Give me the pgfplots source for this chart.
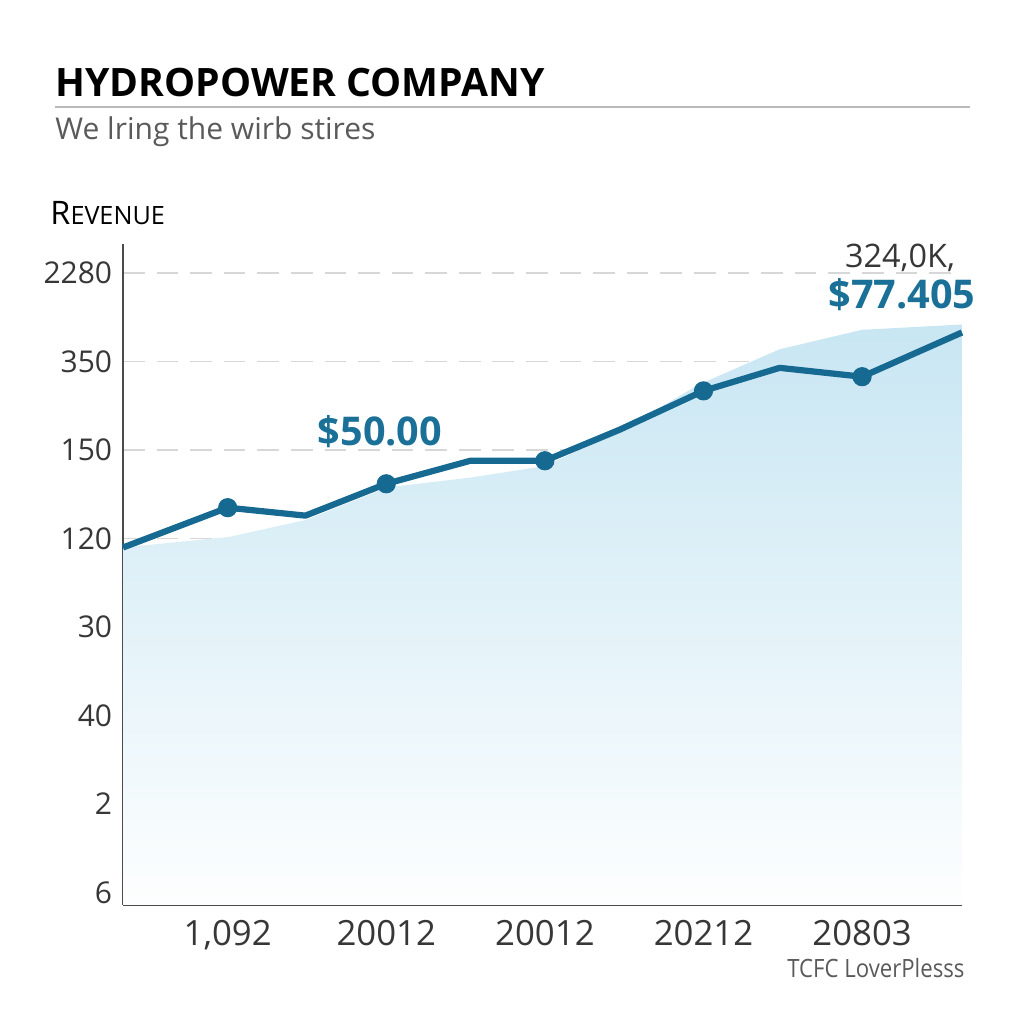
\documentclass[border=0pt]{standalone}
\usepackage{fontspec}
\setmainfont{Open Sans}
\usepackage{graphicx}
\usepackage{pgfplots}
\pgfplotsset{compat=1.18}

\definecolor{linecol}{RGB}{22,106,146}
\definecolor{labcol}{RGB}{26,112,150}
\definecolor{fillblue}{RGB}{200,230,243}
\definecolor{axisgray}{RGB}{75,75,75}
\definecolor{gridgray}{RGB}{215,215,215}
\definecolor{textgray}{RGB}{55,55,55}
\definecolor{subgray}{RGB}{90,90,90}

% pixel position of the 1024x1024 reference, y downwards
\newcommand{\px}[2]{({#1*0.0146484},{(1024-#2)*0.0146484})}

\begin{document}
\begin{tikzpicture}
\path[use as bounding box] (0,0) rectangle (15,15);

\begin{axis}[
    at={(1.8018cm,1.7432cm)}, anchor=south west,
    scale only axis,
    width=12.29cm, height=9.683cm,
    xmin=-0.66, xmax=4.63,
    ymin=-0.14, ymax=7.33,
    axis x line=bottom, axis y line=left,
    axis line style={-, draw=axisgray, line width=1pt},
    major tick length=0pt,
    xtick={0,...,4},
    xticklabels={{1,092}, 20012, 20012, 20212, 20803},
    ytick={0,...,7},
    yticklabels={6,2,40,30,120,150,350,2280},
    ymajorgrids,
    grid style={gridgray, dashed, dash pattern=on 9pt off 5pt, line width=0.6pt},
    xticklabel style={font=\fontsize{14.5}{16}\selectfont, text=textgray, yshift=-3pt},
    yticklabel style={font=\fontsize{12.5}{14}\selectfont, text=textgray, xshift=-1pt},
    clip=false,
]
% shaded area
\addplot[draw=none, top color=fillblue, bottom color=white!97!fillblue]
  coordinates {(-0.66,-0.14) (-0.66,3.90) (0.01,4.02) (0.49,4.21) (1.01,4.58)
               (1.53,4.69) (2.0,4.82) (2.47,5.21) (2.97,5.74) (3.48,6.14)
               (4.0,6.36) (4.63,6.42) (4.63,-0.14)} -- cycle;
% revenue line
\addplot[linecol, line width=2.6pt, line join=round]
  coordinates {(-0.66,3.90) (0,4.35) (0.49,4.26) (1,4.62) (1.53,4.88)
               (2,4.88) (2.47,5.23) (3,5.67) (3.48,5.93) (4,5.83) (4.63,6.33)};
\addplot[only marks, mark=*, mark size=3.8pt, linecol]
  coordinates {(0,4.35) (1,4.62) (2,4.88) (3,5.67) (4,5.83)};
\end{axis}

\node[anchor=base west, inner sep=0pt, font=\fontsize{16.3}{18}\selectfont\bfseries] at \px{55}{97} {HYDROPOWER COMPANY};
\draw[gray!55, line width=1.2pt] \px{55}{107} -- \px{970}{107};
\node[anchor=base west, inner sep=0pt, text=subgray, font=\fontsize{12.5}{14}\selectfont] at \px{55}{140} {We lring the wirb stires};
\node[anchor=base west, inner sep=0pt, text=black] at \px{50}{225}
  {\fontsize{13.5}{15}\selectfont R\fontsize{10.5}{12}\selectfont EVENUE};
\node[anchor=base, inner sep=0pt, text=textgray, font=\fontsize{13.5}{15}\selectfont] at \px{900}{268} {324,0K,};
\node[anchor=base, inner sep=0pt, text=labcol, font=\fontsize{16.5}{18}\selectfont\bfseries] at \px{902}{309} {\$77.405};
\node[anchor=base, inner sep=0pt, text=labcol, font=\fontsize{16.5}{18}\selectfont\bfseries] at \px{380}{446} {\$50.00};
\node[anchor=base east, inner sep=0pt, text=subgray, font=\fontsize{10.5}{12}\selectfont] at \px{965}{977} {\scalebox{0.88}[1]{TCFC LoverPlesss}};
\end{tikzpicture}
\end{document}
